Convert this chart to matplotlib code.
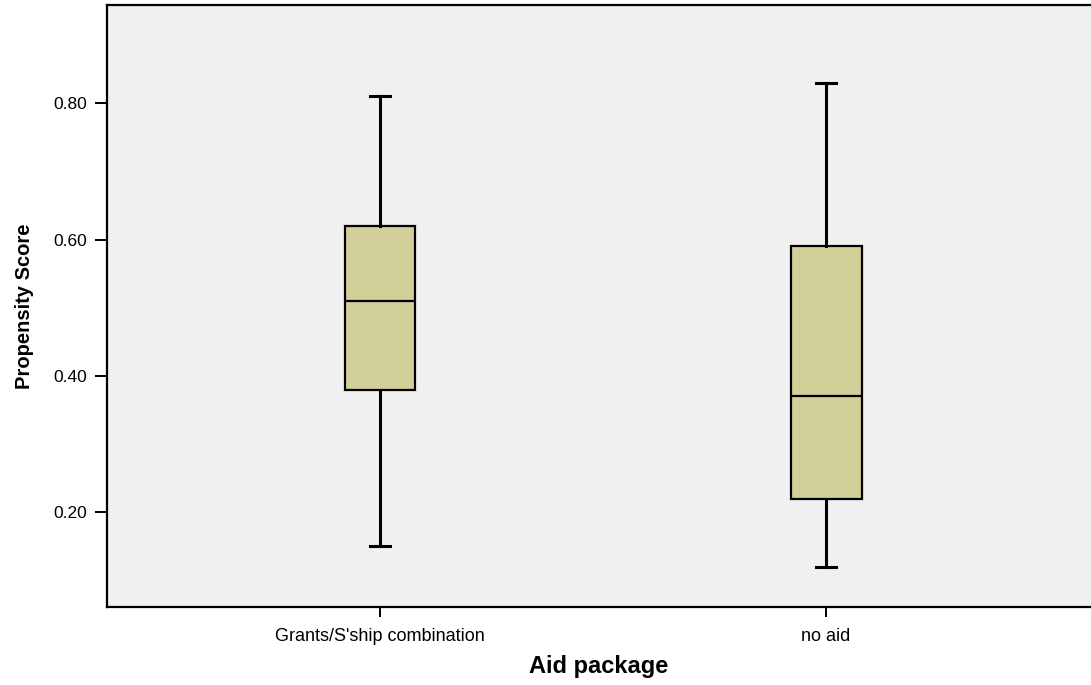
import matplotlib
matplotlib.use("Agg")
import matplotlib.pyplot as plt

groups = ["Grants/S'ship combination", "no aid"]
whisker_low = [0.15, 0.12]
q1 = [0.38, 0.22]
median = [0.51, 0.37]
q3 = [0.62, 0.59]
whisker_high = [0.81, 0.83]
y_ticks = [0.20, 0.40, 0.60, 0.80]

plt.rcParams['font.family'] = ['Liberation Sans', 'DejaVu Sans']

fig = plt.figure(figsize=(10.91, 6.85), dpi=100)
ax = fig.add_axes([107 / 1091, 78 / 685, 1 - 107 / 1091, 602 / 685])
ax.set_facecolor('#f0f0f0')

stats = []
for i, g in enumerate(groups):
    stats.append({'label': g, 'whislo': whisker_low[i], 'q1': q1[i], 'med': median[i],
                  'q3': q3[i], 'whishi': whisker_high[i], 'fliers': []})

ax.bxp(stats, positions=[1, 2], widths=0.159, patch_artist=True, showfliers=False,
       boxprops=dict(facecolor='#d3cf99', edgecolor='black', linewidth=1.6),
       medianprops=dict(color='black', linewidth=1.6),
       whiskerprops=dict(color='black', linewidth=2.2),
       capprops=dict(color='black', linewidth=2.2),
       capwidths=0.043)

ax.set_xlim(0.388, 2.594)
ax.set_ylim(0.061, 0.944)
ax.set_yticks(y_ticks)
ax.set_yticklabels([f"{v:.2f}" for v in y_ticks])
ax.set_xticks([1, 2])
ax.set_xticklabels(groups)

ax.spines['right'].set_visible(False)
for s in ['left', 'top', 'bottom']:
    ax.spines[s].set_linewidth(1.6)
ax.tick_params(axis='y', length=9, width=1.4, labelsize=12.5, pad=5)
ax.tick_params(axis='x', length=7, width=1.4, labelsize=13, pad=8)

ax.set_xlabel("Aid package", fontsize=17, fontweight='bold', labelpad=7)
ax.set_ylabel("Propensity Score", fontsize=14.5, fontweight='bold', labelpad=14)

plt.savefig("out.png", dpi=100)
plt.close()
